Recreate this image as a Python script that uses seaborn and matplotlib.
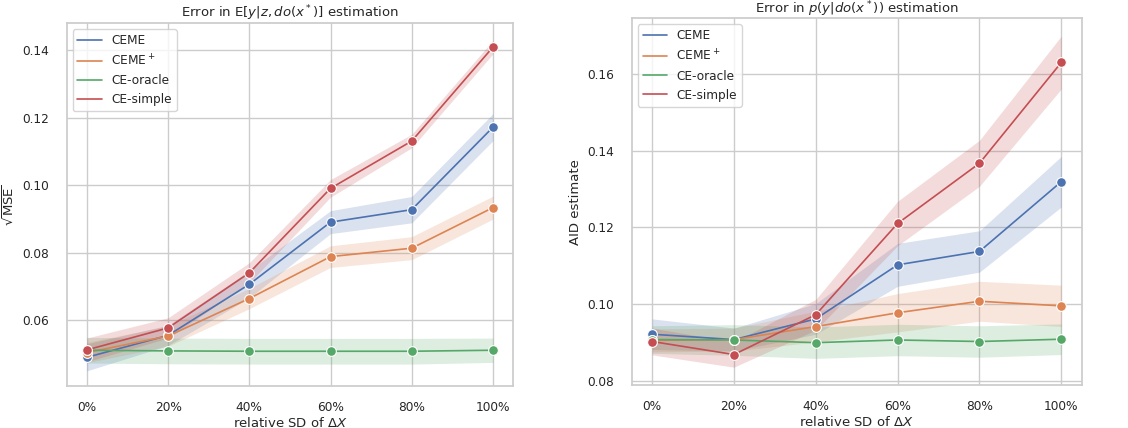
import numpy as np
import pandas as pd
import seaborn as sns
import matplotlib
matplotlib.use("Agg")
import matplotlib.pyplot as plt
from matplotlib.lines import Line2D

sds = [0, 20, 40, 60, 80, 100]
xtick_labels = ["0%", "20%", "40%", "60%", "80%", "100%"]
methods = ["CEME", r"CEME$^+$", "CE-oracle", "CE-simple"]

# Left panel: sqrt(MSE) means and half-widths of bands
mse_ceme = [0.0491, 0.0556, 0.0707, 0.0891, 0.0928, 0.1172]
mse_cemep = [0.0505, 0.0554, 0.0665, 0.0789, 0.0814, 0.0934]
mse_oracle = [0.0512, 0.0510, 0.0509, 0.0509, 0.0509, 0.0512]
mse_simple = [0.0513, 0.0578, 0.0741, 0.0991, 0.1131, 0.1409]
mse_ceme_hw = [0.0040, 0.0030, 0.0040, 0.0034, 0.0039, 0.0040]
mse_cemep_hw = [0.0030, 0.0030, 0.0030, 0.0032, 0.0034, 0.0034]
mse_oracle_hw = [0.0038, 0.0038, 0.0038, 0.0038, 0.0038, 0.0036]
mse_simple_hw = [0.0035, 0.0030, 0.0030, 0.0026, 0.0020, 0.0020]

# Right panel: AID estimate means and half-widths
aid_ceme = [0.0921, 0.0907, 0.0961, 0.1102, 0.1137, 0.1319]
aid_cemep = [0.0905, 0.0907, 0.0941, 0.0977, 0.1007, 0.0995]
aid_oracle = [0.0907, 0.0906, 0.0899, 0.0906, 0.0902, 0.0908]
aid_simple = [0.0902, 0.0868, 0.0972, 0.1210, 0.1367, 0.1630]
aid_ceme_hw = [0.0040, 0.0030, 0.0040, 0.0056, 0.0054, 0.0066]
aid_cemep_hw = [0.0030, 0.0030, 0.0040, 0.0050, 0.0052, 0.0054]
aid_oracle_hw = [0.0036, 0.0040, 0.0041, 0.0041, 0.0041, 0.0040]
aid_simple_hw = [0.0035, 0.0033, 0.0040, 0.0058, 0.0060, 0.0069]

sns.set_theme(style="whitegrid", context="notebook")
palette = sns.color_palette("deep")

TICK_FS = 8.7
LABEL_FS = 9.5

fig = plt.figure(figsize=(11.28, 4.28), dpi=100)
ax1 = fig.add_axes([0.059, 0.098, 0.396, 0.848])
ax2 = fig.add_axes([0.560, 0.100, 0.399, 0.857])


def panel(ax, means, hws, title, ylabel, ylim, yticks):
    rows = []
    for m, vals in zip(methods, means):
        for x, v in zip(sds, vals):
            rows.append({"sd": x, "value": v, "method": m})
    df = pd.DataFrame(rows)
    sns.lineplot(data=df, x="sd", y="value", hue="method", hue_order=methods,
                 palette=palette[:4], marker="o", markersize=7,
                 markeredgecolor="white", markeredgewidth=0.8, ax=ax,
                 errorbar=None, linewidth=1.2, legend=False)
    for i, (vals, hw) in enumerate(zip(means, hws)):
        v = np.array(vals)
        h = np.array(hw)
        ax.fill_between(sds, v - h, v + h, color=palette[i], alpha=0.2, linewidth=0)
    ax.set_xticks(sds)
    ax.set_xticklabels(xtick_labels)
    ax.set_xlim(-5, 105)
    ax.set_ylim(*ylim)
    ax.set_yticks(yticks)
    ax.set_title(title, fontsize=LABEL_FS, pad=4)
    ax.set_xlabel(r"relative SD of $\Delta X$", fontsize=LABEL_FS, labelpad=1)
    ax.set_ylabel(ylabel, fontsize=LABEL_FS, labelpad=4)
    ax.tick_params(axis="x", labelsize=TICK_FS, pad=5)
    ax.tick_params(axis="y", labelsize=TICK_FS, pad=6.5)
    for sp in ax.spines.values():
        sp.set_color("#cccccc")
    handles = [Line2D([0], [0], color=palette[i], lw=1.2) for i in range(4)]
    ax.legend(handles, methods, loc="upper left", fontsize=TICK_FS)


panel(ax1, [mse_ceme, mse_cemep, mse_oracle, mse_simple],
      [mse_ceme_hw, mse_cemep_hw, mse_oracle_hw, mse_simple_hw],
      r"Error in E$[y|z, do(x^*)]$ estimation", r"$\sqrt{\mathrm{MSE}}$",
      (0.0406, 0.148), [0.06, 0.08, 0.10, 0.12, 0.14])
panel(ax2, [aid_ceme, aid_cemep, aid_oracle, aid_simple],
      [aid_ceme_hw, aid_cemep_hw, aid_oracle_hw, aid_simple_hw],
      r"Error in $p(y|do(x^*))$ estimation", "AID estimate",
      (0.0788, 0.1745), [0.08, 0.10, 0.12, 0.14, 0.16])

fig.savefig("out.png", dpi=100)
